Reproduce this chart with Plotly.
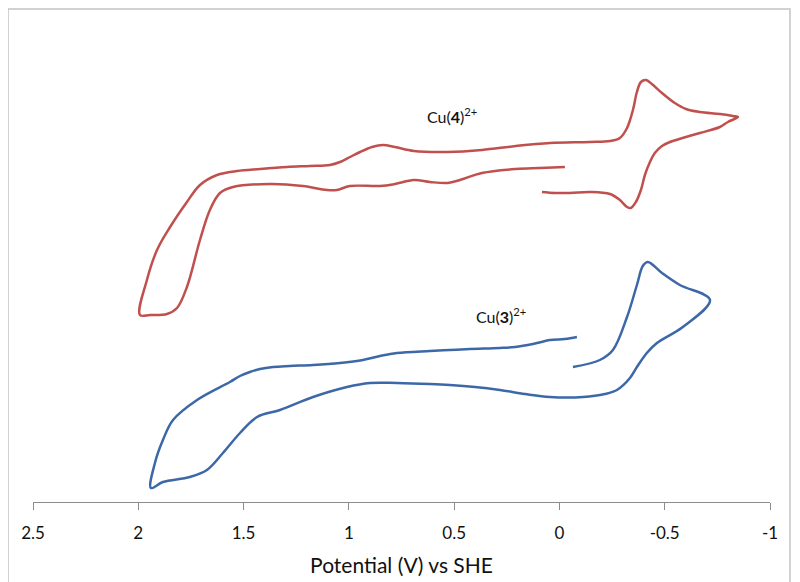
import plotly.graph_objects as go

# Cu(4)2+ cyclic voltammogram (potential V vs SHE, current a.u.)
cu4_potential = [-0.026, 0.093, 0.207, 0.368, 0.473, 0.530, 0.615, 0.691, 0.781, 0.852,
                 0.995, 1.057, 1.104, 1.218, 1.375, 1.550, 1.612, 1.660, 1.707, 1.769,
                 1.816, 1.864, 1.944, 1.992,
                 1.959, 1.911, 1.849, 1.769, 1.707, 1.626, 1.531, 1.422, 1.294, 1.185,
                 1.090, 1.042, 0.995, 0.947, 0.890, 0.838, 0.781, 0.691, 0.530, 0.368,
                 0.207, 0.045, -0.145, -0.240, -0.287, -0.321, -0.349, -0.368, -0.387, -0.411,
                 -0.439, -0.487, -0.548, -0.601, -0.667, -0.762, -0.824, -0.848,
                 -0.800, -0.762, -0.667, -0.601, -0.525, -0.487, -0.453, -0.430, -0.406, -0.387,
                 -0.363, -0.339, -0.321, -0.287, -0.240, -0.145, -0.050, 0.021, 0.083]
cu4_current = [33.5, 33.4, 33.3, 32.9, 32.2, 31.9, 32.0, 32.2, 31.8, 31.6,
               31.6, 31.2, 31.2, 31.6, 31.8, 31.5, 30.9, 29.2, 26.2, 21.5,
               19.4, 18.8, 18.7, 18.7,
               22.2, 25.2, 27.5, 30.0, 31.7, 32.7, 33.1, 33.3, 33.5, 33.6,
               33.7, 34.0, 34.5, 35.0, 35.5, 35.7, 35.5, 35.1, 35.0, 35.2,
               35.6, 35.9, 36.0, 36.1, 36.4, 37.4, 39.2, 41.0, 42.0, 42.2,
               41.8, 40.9, 39.9, 39.3, 39.0, 38.8, 38.6, 38.5,
               38.0, 37.5, 36.9, 36.5, 36.0, 35.6, 34.9, 34.0, 32.7, 31.2,
               30.0, 29.4, 29.5, 30.2, 30.8, 31.0, 30.9, 30.9, 31.0]

# Cu(3)2+ cyclic voltammogram
cu3_potential = [-0.083, -0.026, 0.045, 0.126, 0.211, 0.283, 0.425, 0.520, 0.615, 0.772,
                 0.852, 0.933, 1.042, 1.170, 1.280, 1.360, 1.422, 1.470, 1.517, 1.565,
                 1.721, 1.835, 1.883, 1.921, 1.940,
                 1.883, 1.755, 1.674, 1.598, 1.517, 1.436, 1.327, 1.170, 1.009, 0.900,
                 0.772, 0.615, 0.520, 0.401, 0.283, 0.164, 0.045, -0.112, -0.216, -0.273,
                 -0.335, -0.368, -0.415, -0.463, -0.586, -0.715,
                 -0.572, -0.487, -0.420, -0.396, -0.368, -0.321, -0.254, -0.192, -0.064]
cu3_current = [16.5, 16.3, 16.2, 15.8, 15.5, 15.4, 15.3, 15.2, 15.1, 14.9,
               14.6, 14.2, 13.9, 13.7, 13.6, 13.5, 13.3, 13.0, 12.6, 12.0,
               10.2, 8.2, 6.2, 3.9, 1.4,
               2.0, 2.5, 3.2, 4.9, 6.9, 8.5, 9.2, 10.5, 11.5, 11.9,
               11.9, 11.8, 11.7, 11.5, 11.2, 10.8, 10.5, 10.5, 10.8, 11.2,
               12.4, 13.5, 14.9, 15.9, 17.5, 20.2,
               21.7, 22.9, 24.0, 23.6, 21.7, 18.5, 15.2, 14.2, 13.5]

tick_values = [2.5, 2, 1.5, 1, 0.5, 0, -0.5, -1]
tick_labels = ["2.5", "2", "1.5", "1", "0.5", "0", "-0.5", "-1"]

label_cu4 = {"text": "Cu(<b>4</b>)<sup>2+</sup>", "x": 0.51, "y": 38.7}
label_cu3 = {"text": "Cu(<b>3</b>)<sup>2+</sup>", "x": 0.278, "y": 18.7}

FONT = "Lato, Open Sans, sans-serif"

fig = go.Figure()
fig.add_trace(go.Scatter(x=cu4_potential, y=cu4_current, mode="lines",
                         line=dict(color="#C0504D", width=2.5, shape="spline", smoothing=1.0),
                         showlegend=False, hoverinfo="skip"))
fig.add_trace(go.Scatter(x=cu3_potential, y=cu3_current, mode="lines",
                         line=dict(color="#3D68A8", width=2.5, shape="spline", smoothing=1.0),
                         showlegend=False, hoverinfo="skip"))

for lab in (label_cu4, label_cu3):
    fig.add_annotation(x=lab["x"], y=lab["y"], text=lab["text"], showarrow=False,
                       font=dict(family=FONT, size=16, color="#111"))

fig.update_layout(
    width=792, height=574,
    margin=dict(l=25, r=30, t=1, b=80),
    paper_bgcolor="white", plot_bgcolor="white",
    xaxis=dict(range=[2.5, -1], tickvals=tick_values, ticktext=tick_labels,
               showgrid=False, zeroline=False, showline=True, linecolor="#8C8C8C", linewidth=1,
               ticks="outside", ticklen=7, tickcolor="#8C8C8C", tickwidth=1,
               ticklabelstandoff=9,
               tickfont=dict(family=FONT, size=17, color="#111"),
               title=dict(text="Potential (V) vs SHE", standoff=15,
                          font=dict(family=FONT, size=21, color="#111"))),
    yaxis=dict(range=[0, 49.3], visible=False, showgrid=False, zeroline=False),
    shapes=[
        dict(type="path", xref="paper", yref="paper",
             path="M -0.0339 -0.3 L -0.0339 1.0 L 1.0271 1.0 L 1.0271 -0.3",
             line=dict(color="#C4C4C4", width=1.5)),
    ],
)

fig.write_html("out.html")
